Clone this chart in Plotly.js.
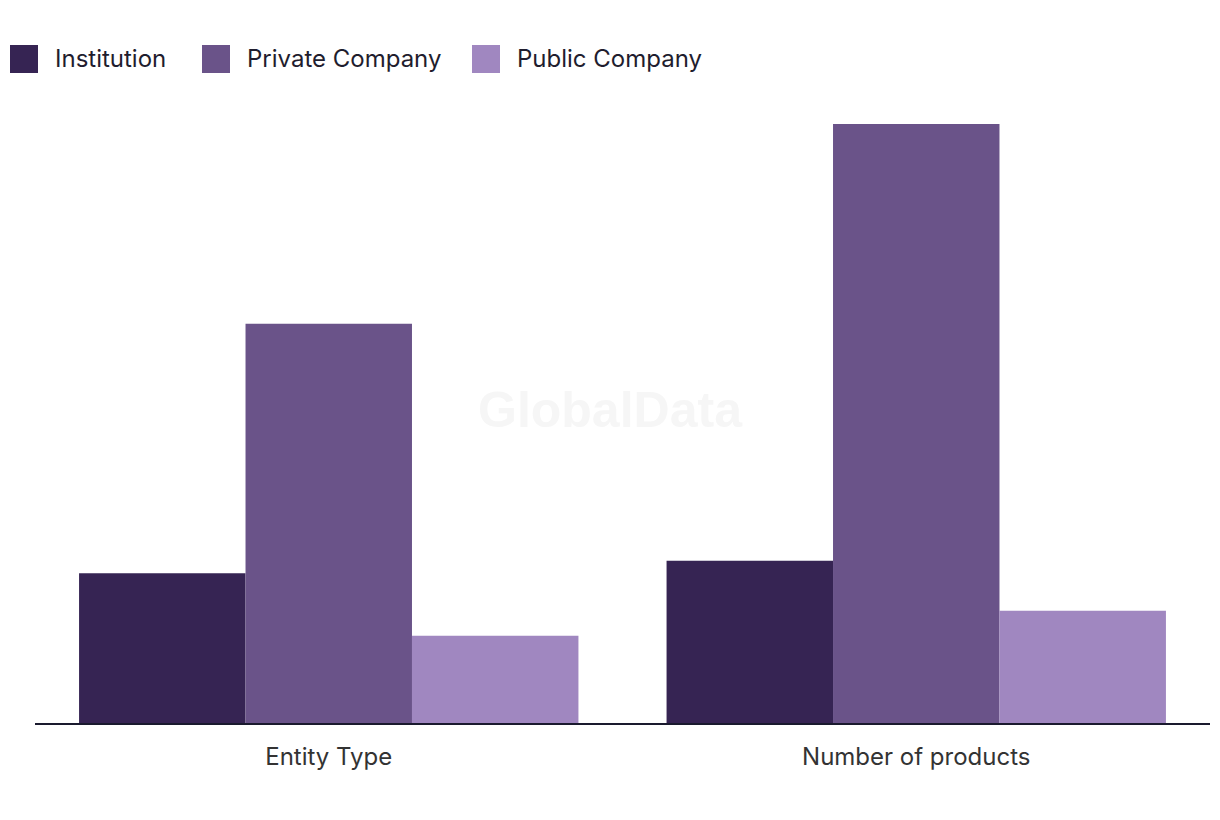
<!DOCTYPE html>
<html>
<head>
<meta charset="utf-8">
<script src="https://cdn.plot.ly/plotly-3.0.1.min.js"></script>
<style>html,body{margin:0;padding:0;background:#fff;}#chart{width:1220px;height:820px;}</style>
</head>
<body>
<div id="chart"></div>
<script>
const categories = ["Entity Type", "Number of products"];
const seriesNames = ["Institution", "Private Company", "Public Company"];
const institution = [12, 13];
const privateCompany = [32, 48];
const publicCompany = [7, 9];
const seriesColors = ["#362453", "#6a5389", "#a087c0"];

const W = 1220, H = 820;
const M = {l: 35, r: 10, t: 99, b: 97};
const pw = W - M.l - M.r, ph = H - M.t - M.b;
const px2x = p => (p - M.l) / pw;
const py2y = p => (H - M.b - p) / ph;

const values = [institution, privateCompany, publicCompany];
const traces = seriesNames.map((n, i) => ({
  type: "bar", name: n, x: categories, y: values[i],
  marker: {color: seriesColors[i], line: {width: 0}},
  hoverinfo: "x+y+name"
}));

const font = "Inter, 'Liberation Sans', sans-serif";
const legendX = [10, 202, 472];
const shapes = [], annotations = [];
seriesNames.forEach((n, i) => {
  shapes.push({type: "rect", xref: "paper", yref: "paper",
    x0: px2x(legendX[i]), x1: px2x(legendX[i] + 28),
    y0: py2y(73), y1: py2y(45),
    fillcolor: seriesColors[i], line: {width: 0}});
  annotations.push({xref: "paper", yref: "paper", x: px2x(legendX[i] + 43), y: py2y(58),
    xanchor: "left", yanchor: "middle", showarrow: false, text: n,
    font: {family: font, size: 24, color: "#1f1d2e"}});
});
annotations.push({xref: "paper", yref: "paper", x: px2x(610), y: py2y(410),
  xanchor: "center", yanchor: "middle", showarrow: false, text: "<b>GlobalData</b>",
  font: {family: "'Liberation Sans', Arial, sans-serif", size: 50, color: "#f6f6f6"}});

const layout = {
  width: W, height: H,
  margin: M,
  paper_bgcolor: "#fff", plot_bgcolor: "#fff",
  barmode: "group", bargap: 0.15, bargroupgap: 0,
  showlegend: false,
  xaxis: {showline: true, linecolor: "#1a1a2e", linewidth: 2, ticks: "", showgrid: false,
    tickfont: {family: font, size: 24, color: "#333333"}, ticklabelstandoff: 11},
  yaxis: {range: [0, 50], visible: false, showgrid: false, zeroline: false},
  shapes: shapes, annotations: annotations
};
Plotly.newPlot("chart", traces, layout, {displayModeBar: false});
</script>
</body>
</html>
